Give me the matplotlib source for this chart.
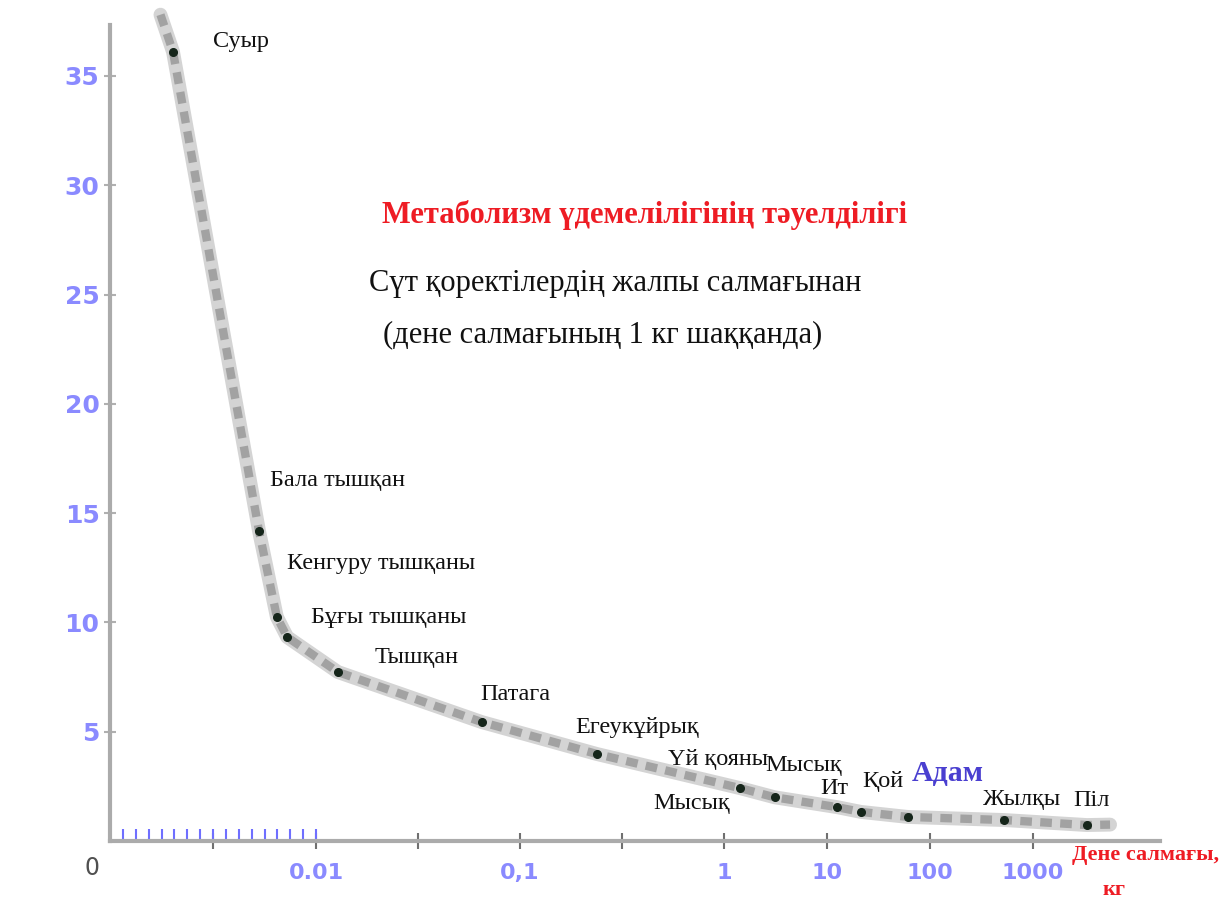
import numpy as np
import matplotlib
matplotlib.use("Agg")
import matplotlib.pyplot as plt

# ---------------- data ----------------
animals = ["Суыр", "Бала тышқан", "Кенгуру тышқаны", "Бұғы тышқаны", "Тышқан",
           "Патага", "Егеукұйрық", "Үй қояны", "Мысық", "Ит", "Қой", "Адам",
           "Жылқы", "Піл"]
mass_kg = [0.00306, 0.00723, 0.0081, 0.0086, 0.0128, 0.065, 0.238, 1.43, 3.1,
           12.5, 21.4, 61, 522, 3340]
metab = [36.1, 14.2, 10.25, 9.33, 7.73, 5.44, 3.98, 2.42, 2.0, 1.55, 1.33,
         1.10, 0.96, 0.73]

# curve (includes the ends beyond the first/last animal)
curve_x = [0.00245, 0.00306, 0.00723, 0.0081, 0.0086, 0.0128, 0.065,
           0.238, 1.43, 3.1, 12.5, 21.4, 61, 522, 3340, 5600]
curve_y = [37.8, 36.1, 14.2, 10.25, 9.33, 7.73, 5.44, 3.98, 2.42, 2.0,
           1.55, 1.33, 1.10, 0.96, 0.73, 0.75]

x_major_ticks = [0.005, 0.01, 10 ** -1.5, 0.1, 10 ** -0.5, 1, 10, 100, 1000]
x_major_labels = ["", "0.01", "", "0,1", "", "1", "10", "100", "1000"]
x_minor_ticks = [k * 0.000625 for k in range(1, 17)]
y_ticks = [5, 10, 15, 20, 25, 30, 35]
y_labels = ["5", "10", "15", "20", "25", "30", "35"]

title_lines = ["Метаболизм үдемелілігінің тәуелділігі",
               "Сүт қоректілердің жалпы салмағынан",
               "(дене салмағының 1 кг шаққанда)"]
xlabel_lines = ["Дене салмағы,", "кг"]

# ---------------- layout ----------------
W, H = 1224, 907
def P(x, y):
    return x / W, 1 - y / H

def fwd(x):
    x = np.asarray(x, float)
    with np.errstate(all="ignore"):
        xs = np.clip(x, 1e-12, None)
        u1 = x * 20600.0
        u2 = 206 + 204 * np.log10(xs / 0.01)
        u3 = 614 + 103 * np.log10(xs)
    return np.where(x <= 0.01, u1, np.where(x <= 1, u2, u3))

def inv(u):
    u = np.asarray(u, float)
    with np.errstate(all="ignore"):
        x1 = u / 20600.0
        x2 = 0.01 * 10 ** ((u - 206) / 204)
        x3 = 10 ** ((u - 614) / 103)
    return np.where(u <= 206, x1, np.where(u <= 614, x2, x3))

fig = plt.figure(figsize=(W / 100, H / 100), dpi=100)
fig.patch.set_facecolor("white")
ax = fig.add_axes([110 / W, (H - 841) / H, 1050 / W, (841 - 25) / H])
ax.set_xscale("function", functions=(fwd, inv))
ax.set_xlim(0, float(inv(1050)))
ax.set_ylim(0, (841 - 25) / 21.86)

for s in ["top", "right"]:
    ax.spines[s].set_visible(False)
for s in ["left", "bottom"]:
    ax.spines[s].set_color("#ababab")
    ax.spines[s].set_linewidth(3)

# curve: rope-like thick gray line
ax.plot(curve_x, curve_y, color="#d4d4d4", lw=10, solid_capstyle="round",
        solid_joinstyle="round", zorder=2, clip_on=False)
ax.plot(curve_x, curve_y, color="#a2a2a2", lw=6, dashes=(1.4, 1.0),
        zorder=3, clip_on=False)
ax.plot(mass_kg, metab, "o", color="#15251a", ms=5.5, zorder=4, ls="none")

# ticks
ax.set_xticks(x_major_ticks)
ax.set_xticklabels(x_major_labels)
ax.set_xticks(x_minor_ticks, minor=True)
ax.xaxis.remove_overlapping_locs = False
ax.tick_params(axis="x", which="major", direction="inout", length=12, width=1.5,
               color="#707070", labelcolor="#8a8aff", labelsize=16, pad=10)
ax.tick_params(axis="x", which="minor", direction="in", length=9, width=1.5,
               color="#6f6fff")
for lab in ax.get_xticklabels():
    lab.set_fontfamily("DejaVu Sans")
    lab.set_fontweight("bold")
ax.set_yticks(y_ticks)
ax.set_yticklabels(y_labels)
ax.tick_params(axis="y", direction="inout", length=9, width=1.5,
               color="#b0b0b0", labelcolor="#8a8aff", labelsize=18, pad=3)
for lab in ax.get_yticklabels():
    lab.set_fontfamily("DejaVu Sans")
    lab.set_fontweight("bold")
ax.yaxis.set_minor_locator(matplotlib.ticker.NullLocator())

fig.text(*P(92, 868), "0", color="#505050", fontsize=17, ha="center",
         va="center", family="DejaVu Sans")

# point labels
serif = "Liberation Serif"
lab_pos = {
    "Суыр": (213, 42), "Бала тышқан": (270, 480), "Кенгуру тышқаны": (287, 563),
    "Бұғы тышқаны": (311, 617), "Тышқан": (375, 657), "Патага": (480, 695),
    "Егеукұйрық": (575, 728), "Үй қояны": (668, 760), "Мысық": (765, 765),
    "Ит": (820, 789), "Қой": (862, 782), "Жылқы": (983, 800), "Піл": (1073, 800),
}
for name, (px, py) in lab_pos.items():
    fig.text(*P(px, py), name, fontsize=17.5, family=serif, color="#111111",
             ha="left", va="center")
fig.text(*P(653, 803), "Мысық", fontsize=17.5, family=serif, color="#111111",
         ha="left", va="center")
fig.text(*P(912, 774), "Адам", fontsize=21.5, family=serif, weight="bold",
         color="#4a3fd0", ha="left", va="center")

# titles
fig.text(*P(645, 215), title_lines[0], fontsize=22, family=serif, weight="bold",
         color="#ee1c24", ha="center", va="center")
fig.text(*P(615, 283), title_lines[1], fontsize=22, family=serif,
         color="#111111", ha="center", va="center")
fig.text(*P(603, 335), title_lines[2], fontsize=22, family=serif,
         color="#111111", ha="center", va="center")

# axis label
fig.text(*P(1072, 855), xlabel_lines[0], fontsize=16, family=serif,
         weight="bold", color="#ee1c24", ha="left", va="center")
fig.text(*P(1103, 890), xlabel_lines[1], fontsize=16, family=serif,
         weight="bold", color="#ee1c24", ha="left", va="center")

fig.savefig("out.png", dpi=100, facecolor="white")
